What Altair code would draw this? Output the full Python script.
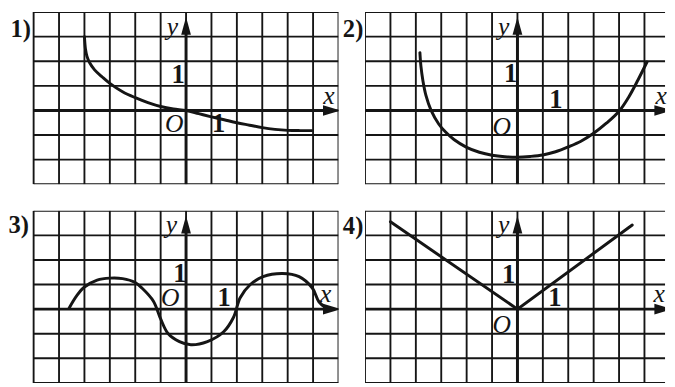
import altair as alt
import pandas as pd

# ---------------- data (grid units) ----------------
P1_X = [-4.0, -3.96, -3.9, -3.8, -3.6, -3.3, -3.0, -2.5, -2.0, -1.5, -1.0, -0.5, 0.0,
        0.5, 1.0, 1.5, 2.0, 2.5, 3.0, 3.5, 4.0, 4.5, 4.95]
P1_Y = [3.0, 2.5, 2.2, 1.95, 1.65, 1.36, 1.1, 0.76, 0.52, 0.32, 0.16, 0.06, 0.0,
        -0.13, -0.26, -0.38, -0.5, -0.6, -0.7, -0.77, -0.81, -0.82, -0.82]

P2_X = [-3.84, -3.8, -3.72, -3.6, -3.4, -3.1, -2.83, -2.5, -2.0, -1.5, -1.0, -0.5, 0.0,
        0.5, 1.0, 1.5, 2.0, 2.5, 3.0, 3.5, 4.0, 4.4, 4.75, 5.1]
P2_Y = [2.35, 1.8, 1.2, 0.6, 0.0, -0.55, -0.88, -1.18, -1.5, -1.7, -1.82, -1.88, -1.9,
        -1.87, -1.81, -1.68, -1.48, -1.25, -0.93, -0.52, -0.03, 0.58, 1.25, 1.97]

P3_X = [-4.6, -4.3, -4.0, -3.5, -3.0, -2.5, -2.0, -1.74, -1.29, -1.0, -0.71, -0.26, 0.19,
        0.84, 1.48, 1.87, 2.13, 2.52, 3.03, 3.8, 4.45, 4.97, 5.23, 5.5]
P3_Y = [0.05, 0.55, 0.9, 1.18, 1.26, 1.24, 1.08, 0.86, 0.33, -0.4, -0.99, -1.32, -1.45,
        -1.32, -0.92, -0.33, 0.46, 0.99, 1.32, 1.45, 1.32, 0.86, 0.3, 0.05]

P4_X = [-5.0, 0.0, 4.52]
P4_Y = [3.55, 0.0, 3.42]

PANEL_TAGS = ["1)", "2)", "3)", "4)"]
GRID_X = list(range(-6, 7))
GRID_Y = list(range(-3, 5))

INK = "#151515"
FONT = "Liberation Serif"
ARROW_RIGHT = "M-1,-0.6L1,0L-1,0.6Z"
ARROW_UP = "M-0.55,1L0,-1L0.55,1Z"


def panel(cx, cy, tag, lab, xdom, width, ydom=(-3, 4), height=175):
    xs = alt.Scale(domain=list(xdom), nice=False, zero=False)
    ys = alt.Scale(domain=list(ydom), nice=False, zero=False)

    def X(f="x"):
        return alt.X(f, type="quantitative", scale=xs, axis=None)

    def Y(f="y"):
        return alt.Y(f, type="quantitative", scale=ys, axis=None)

    vg = pd.DataFrame({"x": GRID_X, "y": [-3] * len(GRID_X), "y2": [4] * len(GRID_X)})
    hg = pd.DataFrame({"y": GRID_Y, "x": [-6] * len(GRID_Y), "x2": [6] * len(GRID_Y)})
    vgrid = alt.Chart(vg).mark_rule(clip=True, color=INK, strokeWidth=1.9).encode(
        x=X(), y=Y(), y2="y2")
    hgrid = alt.Chart(hg).mark_rule(clip=True, color=INK, strokeWidth=1.9).encode(
        y=Y(), x=X(), x2="x2")

    ax = pd.DataFrame({"x": [0, -6], "y": [-3, 0], "x2": [0, 5.74], "y2": [3.44, 0]})
    axes = alt.Chart(ax).mark_rule(clip=True, color=INK, strokeWidth=3).encode(
        x=X(), y=Y(), x2="x2", y2="y2")

    arr_r = alt.Chart(pd.DataFrame({"x": [5.74], "y": [0]})).mark_point(
        clip=True, shape=ARROW_RIGHT, filled=True, size=324, color=INK, opacity=1,
        strokeWidth=0).encode(x=X(), y=Y())
    arr_u = alt.Chart(pd.DataFrame({"x": [0], "y": [3.44]})).mark_point(
        clip=True, shape=ARROW_UP, filled=True, size=324, color=INK, opacity=1,
        strokeWidth=0).encode(x=X(), y=Y())

    curve = alt.Chart(pd.DataFrame({"x": cx, "y": cy, "i": list(range(len(cx)))})).mark_line(
        clip=True, color=INK, strokeWidth=3,
        interpolate="catmull-rom" if len(cx) > 3 else "linear",
        strokeCap="round").encode(x=X(), y=Y(), order="i:Q")

    tag_df = pd.DataFrame({"x": [lab["tag"][0]], "y": [lab["tag"][1]], "t": [tag]})
    tag_txt = alt.Chart(tag_df).mark_text(font=FONT, fontSize=25, fontWeight="bold",
                                          color=INK, baseline="middle").encode(
        x=X(), y=Y(), text="t:N")

    it = pd.DataFrame({"x": [lab["y"][0], lab["O"][0], lab["x"][0]],
                       "y": [lab["y"][1], lab["O"][1], lab["x"][1]],
                       "t": ["y", "O", "x"]})
    it_txt = alt.Chart(it).mark_text(font=FONT, fontSize=26, fontStyle="italic",
                                     color=INK, baseline="middle").encode(
        x=X(), y=Y(), text="t:N")

    one = pd.DataFrame({"x": [lab["1y"][0], lab["1x"][0]],
                        "y": [lab["1y"][1], lab["1x"][1]], "t": ["1", "1"]})
    one_txt = alt.Chart(one).mark_text(font=FONT, fontSize=27, fontWeight="bold",
                                       color=INK, baseline="middle").encode(
        x=X(), y=Y(), text="t:N")

    return alt.layer(vgrid, hgrid, axes, curve, arr_r, arr_u, tag_txt, it_txt, one_txt).properties(
        width=width, height=height)


L1 = {"tag": (-6.51, 3.32), "y": (-0.54, 3.4), "1y": (-0.31, 1.44), "O": (-0.47, -0.56),
      "1x": (1.28, -0.56), "x": (5.62, 0.6)}
L2 = {"tag": (-6.47, 3.32), "y": (-0.54, 3.4), "1y": (-0.27, 1.48), "O": (-0.62, -0.68),
      "1x": (1.51, 0.4), "x": (5.66, 0.6)}
L3 = {"tag": (-6.59, 3.4), "y": (-0.58, 3.4), "1y": (-0.24, 1.42), "O": (-0.62, 0.43),
      "1x": (1.5, 0.43), "x": (5.5, 0.63)}
L4 = {"tag": (-6.47, 3.36), "y": (-0.54, 3.4), "1y": (-0.35, 1.38), "O": (-0.62, -0.67),
      "1x": (1.47, 0.43), "x": (5.58, 0.59)}

LEFT_DOM = (-6.97, 6.0)
RIGHT_DOM = (-6.0, 5.81)

p1 = panel(P1_X, P1_Y, PANEL_TAGS[0], L1, LEFT_DOM, 335)
p2 = panel(P2_X, P2_Y, PANEL_TAGS[1], L2, RIGHT_DOM, 305)
p3 = panel(P3_X, P3_Y, PANEL_TAGS[2], L3, LEFT_DOM, 335)
p4 = panel(P4_X, P4_Y, PANEL_TAGS[3], L4, RIGHT_DOM, 305)

chart = alt.concat(p1, p2, p3, p4, columns=2, spacing=27, bounds="flush", align="each").properties(
    padding={"left": 0, "top": 1, "right": 0, "bottom": 0},
    background="white",
).configure_view(stroke=None)

chart.save("out.html", embed_options={"renderer": "svg", "actions": False})
